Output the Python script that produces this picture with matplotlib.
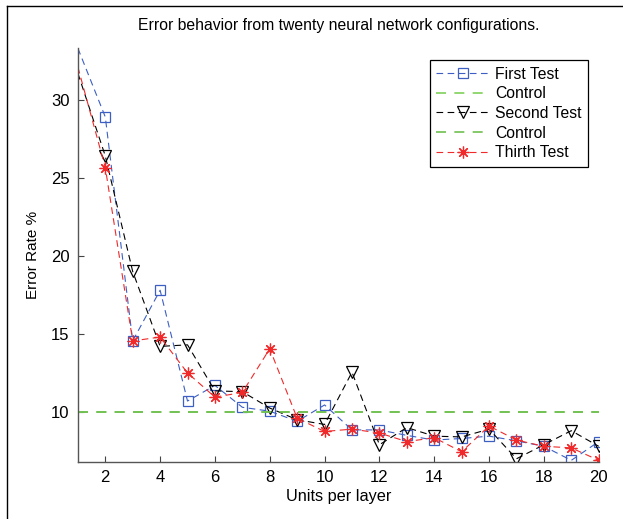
import numpy as np
import matplotlib.pyplot as plt
from matplotlib.lines import Line2D

plt.rcParams["font.family"] = ["Liberation Sans", "DejaVu Sans"]

# unidades por capa (eje x)
unidades = list(range(1, 21))

# tasas de error (%) de cada prueba
primera = [33.3, 28.9, 14.55, 17.8, 10.7, 11.7, 10.3, 10.05, 9.4, 10.45,
           8.85, 8.85, 8.5, 8.2, 8.3, 8.45, 8.15, 7.8, 6.9, 8.1]
segunda = [31.7, 26.4, 19.0, 14.2, 14.3, 11.35, 11.3, 10.25, 9.5, 9.2,
           12.55, 7.9, 9.0, 8.45, 8.4, 8.9, 7.0, 7.9, 8.8, 7.8]
tercera = [32.1, 25.65, 14.55, 14.8, 12.5, 10.95, 11.25, 14.05, 9.6, 8.75,
           8.9, 8.65, 8.1, 8.35, 7.45, 9.1, 8.2, 7.8, 7.7, 6.9]
control = 10

fig = plt.figure(figsize=(6.23, 5.19), dpi=100)
ax = fig.add_axes([0.125, 0.110, 0.836, 0.797])

# el primer punto queda pegado al eje, sin marcador
marcas = list(range(1, len(unidades)))
estilo = dict(linestyle=(0, (6, 4)), linewidth=0.8, markevery=marcas)
ax.plot(unidades, primera, color="#3d5fc4", marker="s", markersize=7,
        markerfacecolor="none", markeredgewidth=0.9, label="First Test", **estilo)
ax.plot(unidades, [control] * len(unidades), color="#7fcf5a", linestyle=(0, (6, 5)),
        linewidth=1.2, label="Control")
ax.plot(unidades, segunda, color="black", marker="v", markersize=8.5,
        markerfacecolor="none", markeredgewidth=0.9, label="Second Test", **estilo)
ax.plot(unidades, [control] * len(unidades), color="#6fbf50", linestyle=(0, (6, 5)),
        linewidth=1.2, label="Control")
ax.plot(unidades, tercera, color="#f02a2a", marker=(8, 2, 0), markersize=8.5,
        markeredgewidth=0.9, label="Thirth Test", **estilo)

ax.set_xlim(1, 20)
ax.set_ylim(6.8, 33.3)
ax.set_xticks(range(2, 21, 2))
ax.set_yticks([10, 15, 20, 25, 30])
ax.tick_params(direction="in", length=4, labelsize=12, color="#444444", pad=6)

for lado in ("top", "right"):
    ax.spines[lado].set_visible(False)
for lado in ("left", "bottom"):
    ax.spines[lado].set_color("#555555")
    ax.spines[lado].set_linewidth(1.0)

ax.set_title("Error behavior from twenty neural network configurations.",
             fontsize=11.3, pad=13)
ax.set_xlabel("Units per layer", fontsize=11.7, labelpad=3)
ax.set_ylabel("Error Rate %", fontsize=11, labelpad=8)

leg = ax.legend(loc="upper right", bbox_to_anchor=(0.995, 0.99), fontsize=11.3,
                fancybox=False, edgecolor="black", framealpha=1,
                handlelength=3.4, borderpad=0.4, labelspacing=0.3,
                handletextpad=0.4)
leg.get_frame().set_linewidth(0.9)

# marco exterior de la figura (solo izquierda y arriba)
fig.add_artist(Line2D([0.012, 0.012], [0.0, 0.989], color="black", lw=1.0))
fig.add_artist(Line2D([0.012, 1.0], [0.989, 0.989], color="black", lw=1.0))

fig.savefig("out.png", dpi=100, facecolor="white")
